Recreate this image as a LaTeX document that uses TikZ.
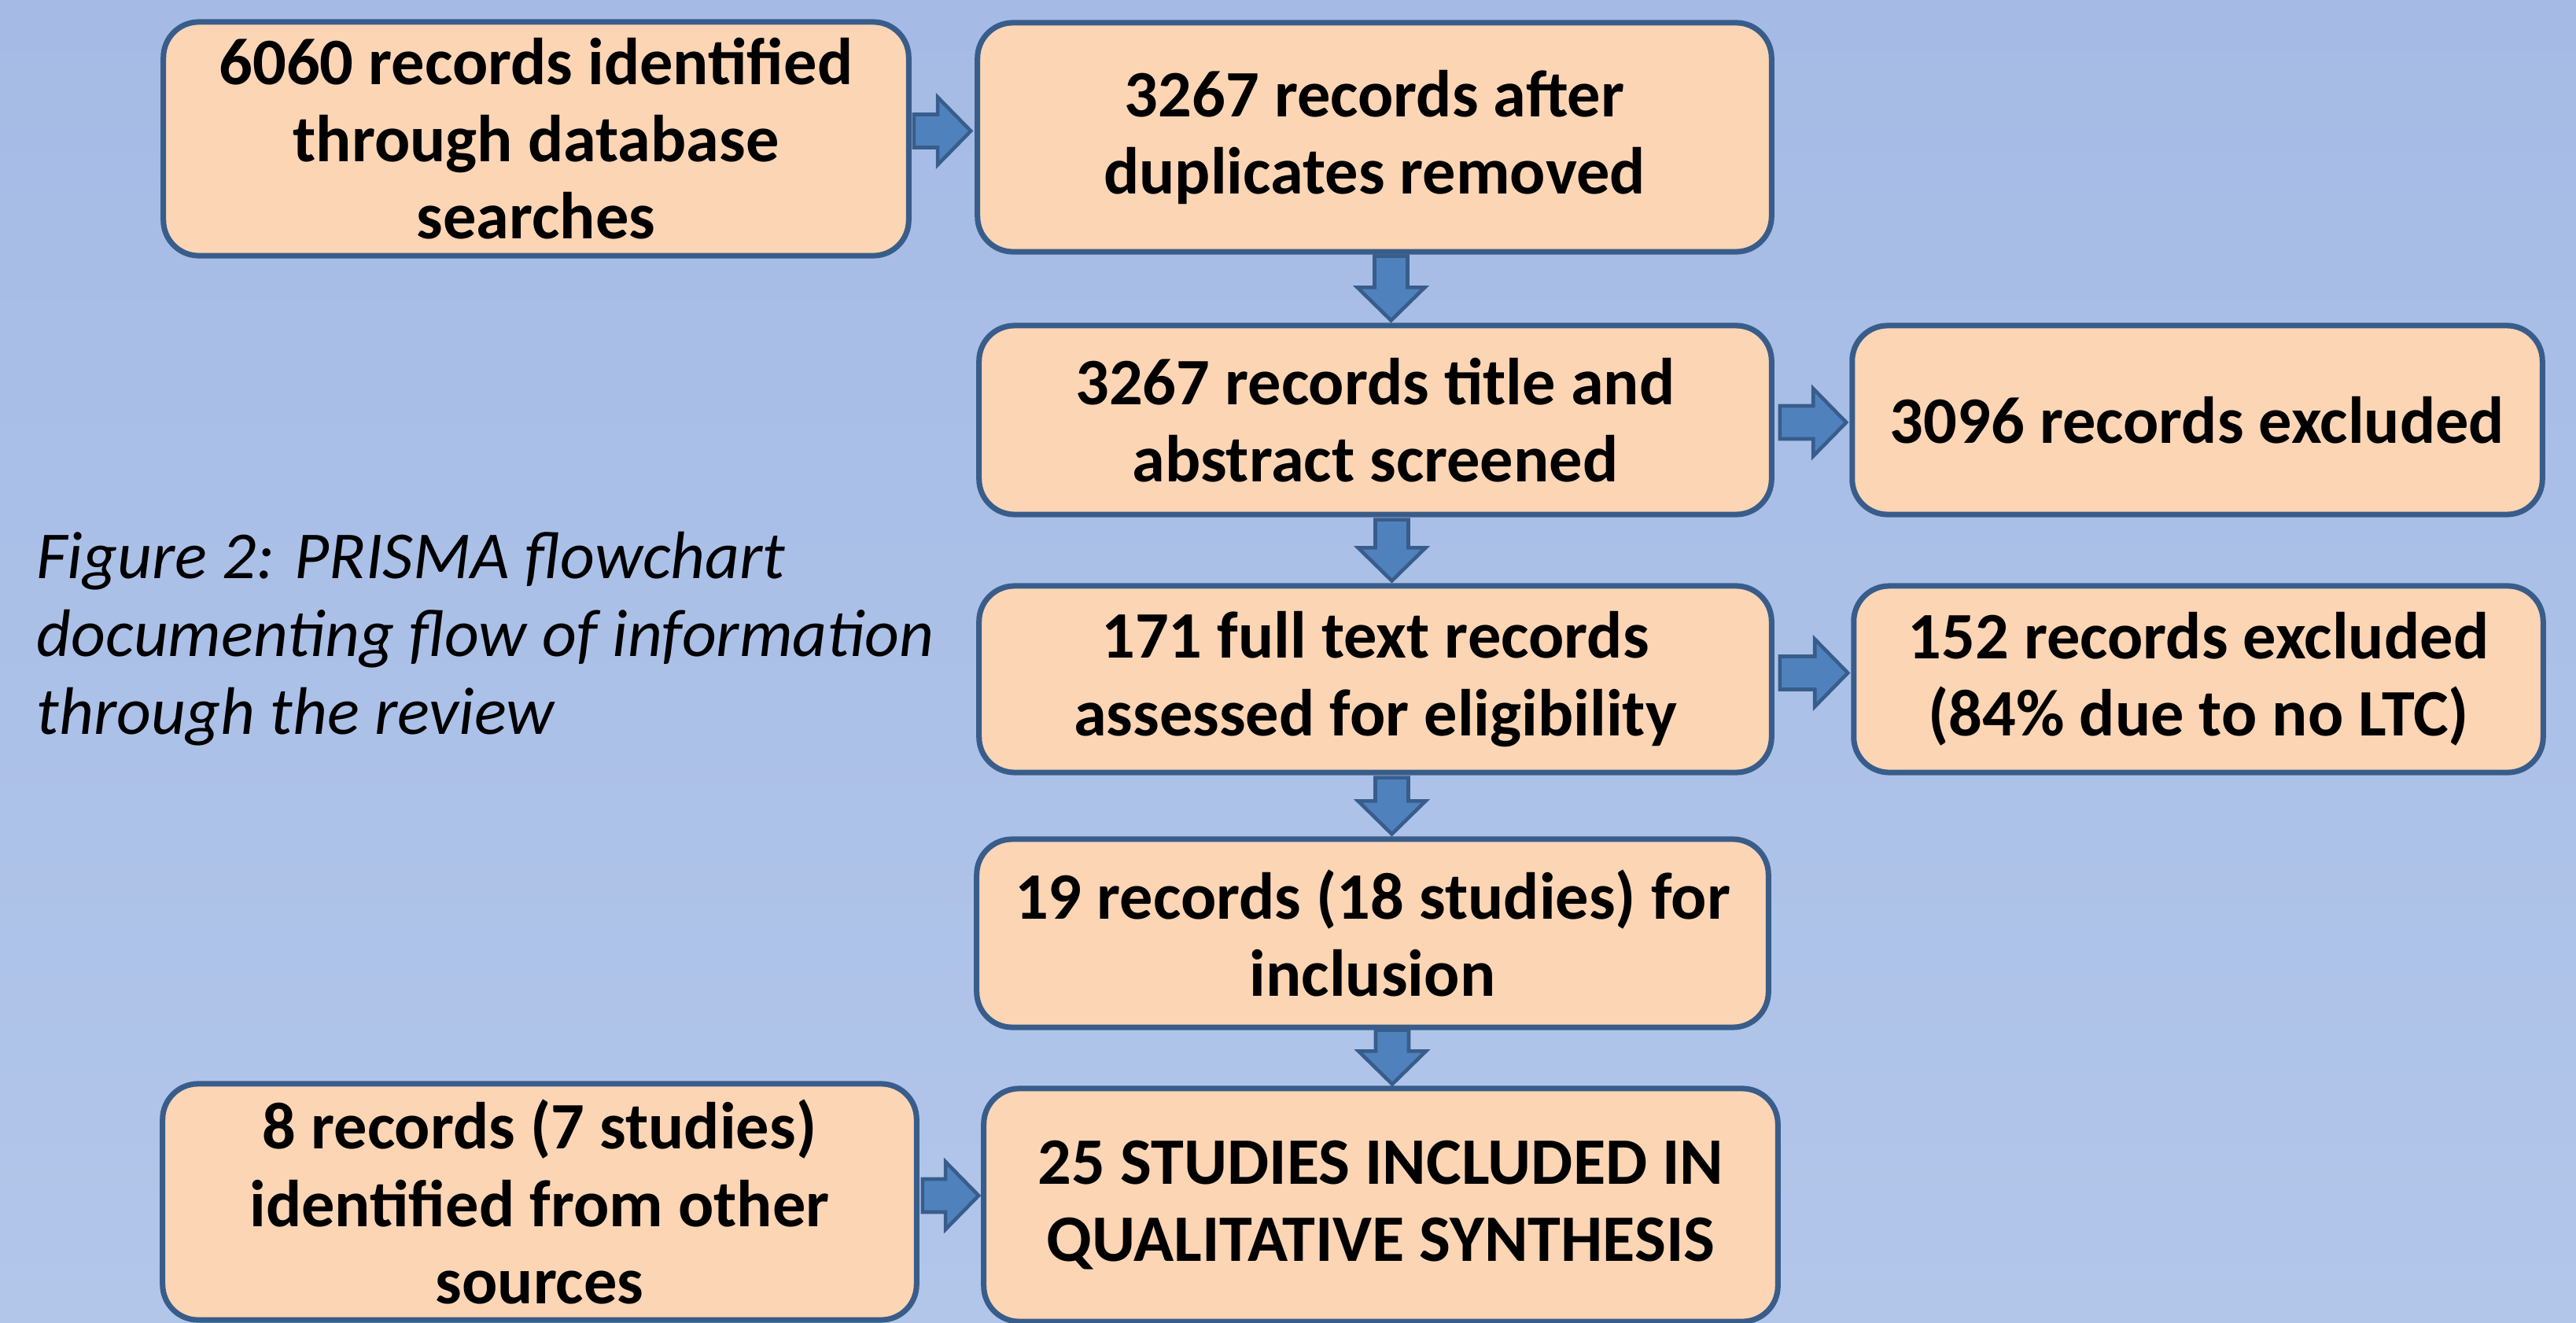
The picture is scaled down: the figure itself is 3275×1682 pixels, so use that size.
\documentclass[tikz,border=0pt]{standalone}
\usepackage{fontspec}
\setmainfont{Carlito}
\usetikzlibrary{calc}
\definecolor{bgtop}{RGB}{165,187,229}
\definecolor{bgbot}{RGB}{178,198,234}
\definecolor{boxfill}{RGB}{252,213,181}
\definecolor{boxline}{RGB}{56,93,138}
\definecolor{arrfill}{RGB}{79,129,189}
\newlength\arrSW \setlength\arrSW{5.97pt}
\newlength\arrHW \setlength\arrHW{12.2pt}
\newlength\arrHL \setlength\arrHL{11.95pt}
\newcommand\harrow[2]{\draw[barrow] let \p1=(#1), \p2=(#2) in
  (\x1,\y1+\arrSW) -- (\x2-\arrHL,\y1+\arrSW) -- (\x2-\arrHL,\y1+\arrHW) -- (\x2,\y1)
  -- (\x2-\arrHL,\y1-\arrHW) -- (\x2-\arrHL,\y1-\arrSW) -- (\x1,\y1-\arrSW) -- cycle;}
\newcommand\varrow[2]{\draw[barrow] let \p1=(#1), \p2=(#2) in
  (\x1-\arrSW,\y1) -- (\x1-\arrSW,\y2+\arrHL) -- (\x1-\arrHW,\y2+\arrHL) -- (\x1,\y2)
  -- (\x1+\arrHW,\y2+\arrHL) -- (\x1+\arrSW,\y2+\arrHL) -- (\x1+\arrSW,\y1) -- cycle;}
\begin{document}
\begin{tikzpicture}[x=0.01cm,y=-0.01cm,
  box/.style={draw=boxline, line width=2pt, fill=boxfill, rounded corners=0.45cm,
    align=center, inner sep=0pt, font=\fontsize{24}{27.9}\selectfont\bfseries},
  barrow/.style={draw=boxline, line width=1.3pt, fill=arrfill, line join=miter},
  caption/.style={align=left, anchor=west, inner sep=0pt,
    font=\fontsize{24.3}{28.2}\selectfont\itshape}]
\fill[top color=bgtop, bottom color=bgbot] (0,0) rectangle (3275,1682);
\useasboundingbox (0,0) rectangle (3275,1682);

\node[box, minimum width=9.47cm, minimum height=2.97cm] (b1) at (681.5,176.5)
  {6060 records identified\\through database\\searches};
\node[box, minimum width=10.09cm, minimum height=2.91cm] (b2) at (1747.5,174.5)
  {3267 records after\\duplicates removed};
\node[box, minimum width=10.07cm, minimum height=2.40cm] (b3) at (1748.5,534)
  {3267 records title and\\abstract screened};
\node[box, minimum width=8.77cm, minimum height=2.40cm] (b4) at (2793.5,534)
  {3096 records excluded};
\node[box, minimum width=10.07cm, minimum height=2.37cm] (b5) at (1748.5,863.5)
  {171 full text records\\assessed for eligibility};
\node[box, minimum width=8.76cm, minimum height=2.37cm] (b6) at (2795,863.5)
  {152 records excluded\\(84\% due to no LTC)};
\node[box, minimum width=10.06cm, minimum height=2.39cm] (b7) at (1745,1186.5)
  {19 records (18 studies) for\\inclusion};
\node[box, minimum width=9.58cm, minimum height=3.00cm] (b8) at (686,1528)
  {8 records (7 studies)\\identified from other\\sources};
\node[box, minimum width=10.09cm, minimum height=2.96cm] (b9) at (1755.5,1532)
  {25 STUDIES INCLUDED IN\\QUALITATIVE SYNTHESIS};

\node[caption] (cap) at (46,812)
  {Figure 2: PRISMA flowchart\\documenting flow of information\\through the review};

\harrow{$(b1.east)+(3,-10)$}{$(b2.west)+(-5,0)$}
\harrow{$(b3.east)+(7,3)$}{$(b4.west)+(-4,0)$}
\harrow{$(b5.east)+(7,-8)$}{$(b6.west)+(-4,0)$}
\harrow{$(b8.east)+(4,-8)$}{$(b9.west)+(-3,0)$}
\varrow{$(b2.south)+(21,2)$}{$(b3.north)+(0,-3)$}
\varrow{$(b3.south)+(21,3)$}{$(b5.north)+(0,-3)$}
\varrow{$(b5.south)+(21,3)$}{$(b7.north)+(0,-3)$}
\varrow{$(b7.south)+(25,0)$}{$(b9.north)+(0,-2)$}
\end{tikzpicture}
\end{document}
